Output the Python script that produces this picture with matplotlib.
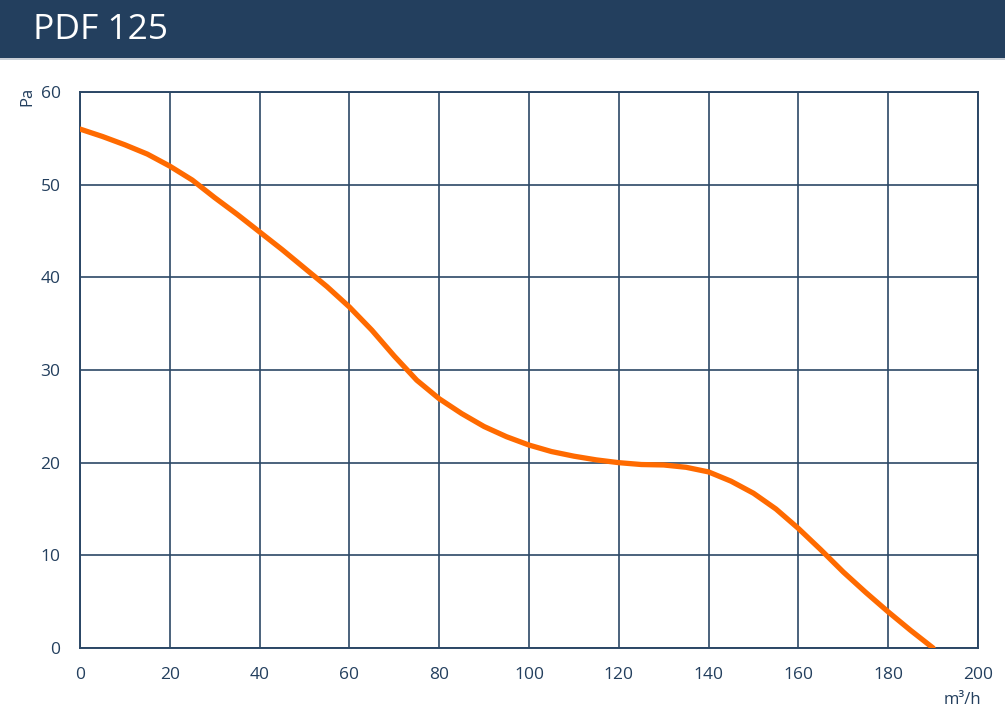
import matplotlib.pyplot as plt
import matplotlib.patches as patches

# fan curve PDF 125
airflow = [0, 5, 10, 15, 20, 25, 30, 35, 40, 45, 50, 55, 60, 65, 70, 75, 80,
           85, 90, 95, 100, 105, 110, 115, 120, 125, 130, 135, 140, 145, 150,
           155, 160, 165, 170, 175, 180, 185, 190]
pressure = [56.0, 55.2, 54.3, 53.3, 52.0, 50.5, 48.6, 46.8, 44.9, 43.0, 41.0,
            39.0, 36.8, 34.3, 31.5, 28.9, 26.9, 25.3, 23.9, 22.8, 21.9, 21.2,
            20.7, 20.3, 20.0, 19.8, 19.75, 19.5, 19.0, 18.0, 16.7, 15.0, 12.9,
            10.6, 8.2, 6.0, 3.9, 1.9, 0.0]
x_ticks = [0, 20, 40, 60, 80, 100, 120, 140, 160, 180, 200]
y_ticks = [0, 10, 20, 30, 40, 50, 60]

title = "PDF 125"
navy = "#233f5e"
grid_col = "#2c4866"
orange = "#ff6a00"

plt.rcParams['font.family'] = ['Open Sans', 'DejaVu Sans']

fig = plt.figure(figsize=(10.05, 7.16), dpi=100)

# header bar
fig.patches.append(patches.Rectangle((0, 1 - 58 / 716), 1, 58 / 716,
                                     transform=fig.transFigure,
                                     facecolor=navy, edgecolor="none"))
fig.patches.append(patches.Rectangle((0, 1 - 60 / 716), 1, 2 / 716,
                                     transform=fig.transFigure,
                                     facecolor="#c8ced6", edgecolor="none"))
fig.text(33 / 1005, 1 - 30 / 716, title, color="white", fontsize=25.5,
         va="center", ha="left")

ax = fig.add_axes([80 / 1005, 68 / 716, 898 / 1005, 556 / 716])
ax.plot(airflow, pressure, color=orange, linewidth=3.8,
        solid_capstyle="round", solid_joinstyle="round", zorder=3)

ax.set_xlim(0, 200)
ax.set_ylim(0, 60)
ax.set_xticks(x_ticks)
ax.set_yticks(y_ticks)
ax.grid(True, color=grid_col, linewidth=1.2)
for s in ax.spines.values():
    s.set_color(grid_col)
    s.set_linewidth(1.4)
ax.tick_params(length=0, colors=navy, labelsize=12.5)
ax.tick_params(axis="x", pad=14)
ax.tick_params(axis="y", pad=14)

fig.text(27 / 1005, 1 - 96 / 716, "Pa", rotation=90, color=navy,
         fontsize=12, ha="center", va="center")
fig.text(962 / 1005, 1 - 700 / 716, "m³/h", color=navy, fontsize=12,
         ha="center", va="center")

fig.savefig("out.png", dpi=100)
